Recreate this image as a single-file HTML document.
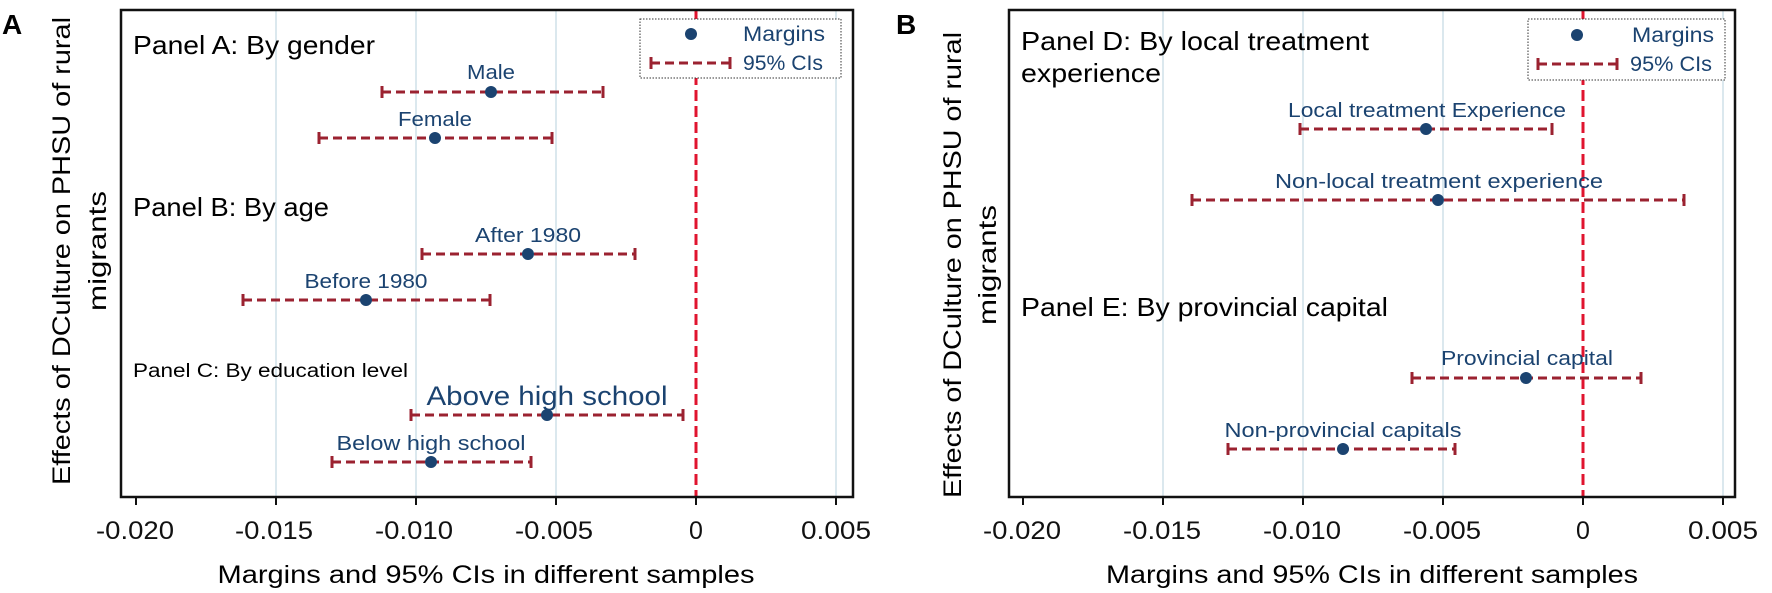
<!DOCTYPE html>
<html><head><meta charset="utf-8"><style>html,body{margin:0;padding:0;background:#fff}svg{display:block}</style></head><body>
<svg width="1772" height="593" viewBox="0 0 1772 593" xmlns="http://www.w3.org/2000/svg" font-family="Liberation Sans, sans-serif">
<defs>
<style>
.grid{stroke:#dbe8ee;stroke-width:2}
.ci{stroke:#9b2230;stroke-width:3;stroke-dasharray:9,5;fill:none}
.cap{stroke:#9b2230;stroke-width:3}
.zero{stroke:#e0142f;stroke-width:3;stroke-dasharray:11,5}
.dot{fill:#1b4370}
.lbl{fill:#1b4370}
.tk{font-size:25px;fill:#111}
.tick{stroke:#111;stroke-width:2}
</style>
</defs>
<!-- PANEL A -->
<text x="2" y="34" font-size="28" font-weight="bold">A</text>
<g class="grid"><line x1="276" y1="10" x2="276" y2="497"/><line x1="416" y1="10" x2="416" y2="497"/><line x1="556" y1="10" x2="556" y2="497"/><line x1="836" y1="10" x2="836" y2="497"/></g>
<line class="zero" x1="696" y1="10" x2="696" y2="497"/>
<rect x="121" y="10" width="732" height="487" fill="none" stroke="#111" stroke-width="2.5"/>
<g class="tick"><line x1="136" y1="497" x2="136" y2="505"/><line x1="276" y1="497" x2="276" y2="505"/><line x1="416" y1="497" x2="416" y2="505"/><line x1="556" y1="497" x2="556" y2="505"/><line x1="696" y1="497" x2="696" y2="505"/><line x1="836" y1="497" x2="836" y2="505"/></g>
<g class="tk" text-anchor="middle">
<text x="135" y="539" textLength="78" lengthAdjust="spacingAndGlyphs">-0.020</text>
<text x="274" y="539" textLength="78" lengthAdjust="spacingAndGlyphs">-0.015</text>
<text x="414" y="539" textLength="78" lengthAdjust="spacingAndGlyphs">-0.010</text>
<text x="554" y="539" textLength="78" lengthAdjust="spacingAndGlyphs">-0.005</text>
<text x="696" y="539">0</text>
<text x="836" y="539" textLength="70" lengthAdjust="spacingAndGlyphs">0.005</text>
</g>
<text x="486" y="583" font-size="25" text-anchor="middle" textLength="537" lengthAdjust="spacingAndGlyphs">Margins and 95% CIs in different samples</text>
<text transform="translate(70,251) rotate(-90)" font-size="25" text-anchor="middle" textLength="468" lengthAdjust="spacingAndGlyphs">Effects of DCulture on PHSU of rural</text>
<text transform="translate(106,251) rotate(-90)" font-size="25" text-anchor="middle" textLength="120" lengthAdjust="spacingAndGlyphs">migrants</text>
<!-- legend A -->
<rect x="640" y="19" width="201" height="59" fill="#fff" stroke="#333" stroke-width="1" stroke-dasharray="1.5,1.5"/>
<circle class="dot" cx="691" cy="34" r="6"/>
<text class="lbl" x="743" y="41" font-size="21" textLength="82" lengthAdjust="spacingAndGlyphs">Margins</text>
<line class="ci" x1="651" y1="63" x2="730" y2="63" stroke-dasharray="5,3"/>
<line class="cap" x1="651" y1="57" x2="651" y2="69"/><line class="cap" x1="730" y1="57" x2="730" y2="69"/>
<text class="lbl" x="743" y="70" font-size="21" textLength="80" lengthAdjust="spacingAndGlyphs">95% CIs</text>
<!-- panel texts A -->
<text x="133" y="54" font-size="26" textLength="242" lengthAdjust="spacingAndGlyphs">Panel A: By gender</text>
<text x="133" y="216" font-size="26" textLength="196" lengthAdjust="spacingAndGlyphs">Panel B: By age</text>
<text x="133" y="377" font-size="19" textLength="275" lengthAdjust="spacingAndGlyphs">Panel C: By education level</text>
<g class="lbl" text-anchor="middle">
<text x="491" y="79" font-size="20" textLength="48" lengthAdjust="spacingAndGlyphs">Male</text>
<text x="435" y="126" font-size="20" textLength="74" lengthAdjust="spacingAndGlyphs">Female</text>
<text x="528" y="242" font-size="20" textLength="106" lengthAdjust="spacingAndGlyphs">After 1980</text>
<text x="366" y="288" font-size="20" textLength="123" lengthAdjust="spacingAndGlyphs">Before 1980</text>
<text x="547" y="405" font-size="27" textLength="241" lengthAdjust="spacingAndGlyphs">Above high school</text>
<text x="431" y="450" font-size="20" textLength="189" lengthAdjust="spacingAndGlyphs">Below high school</text>
</g>
<!-- bars A -->
<g>
<line class="ci" x1="382" y1="92" x2="603" y2="92"/><line class="cap" x1="382" y1="86" x2="382" y2="98"/><line class="cap" x1="603" y1="86" x2="603" y2="98"/><circle class="dot" cx="491" cy="92" r="6"/>
<line class="ci" x1="319" y1="138" x2="552" y2="138"/><line class="cap" x1="319" y1="132" x2="319" y2="144"/><line class="cap" x1="552" y1="132" x2="552" y2="144"/><circle class="dot" cx="435" cy="138" r="6"/>
<line class="ci" x1="422" y1="254" x2="635" y2="254"/><line class="cap" x1="422" y1="248" x2="422" y2="260"/><line class="cap" x1="635" y1="248" x2="635" y2="260"/><circle class="dot" cx="528" cy="254" r="6"/>
<line class="ci" x1="243" y1="300" x2="490" y2="300"/><line class="cap" x1="243" y1="294" x2="243" y2="306"/><line class="cap" x1="490" y1="294" x2="490" y2="306"/><circle class="dot" cx="366" cy="300" r="6"/>
<line class="ci" x1="411" y1="415" x2="683" y2="415"/><line class="cap" x1="411" y1="409" x2="411" y2="421"/><line class="cap" x1="683" y1="409" x2="683" y2="421"/><circle class="dot" cx="547" cy="415" r="6"/>
<line class="ci" x1="332" y1="462" x2="531" y2="462"/><line class="cap" x1="332" y1="456" x2="332" y2="468"/><line class="cap" x1="531" y1="456" x2="531" y2="468"/><circle class="dot" cx="431" cy="462" r="6"/>
</g>

<!-- PANEL B -->
<text x="896" y="34" font-size="28" font-weight="bold">B</text>
<g class="grid"><line x1="1163" y1="10" x2="1163" y2="497"/><line x1="1303" y1="10" x2="1303" y2="497"/><line x1="1443" y1="10" x2="1443" y2="497"/><line x1="1723" y1="10" x2="1723" y2="497"/></g>
<line class="zero" x1="1583" y1="10" x2="1583" y2="497"/>
<rect x="1009" y="10" width="726" height="487" fill="none" stroke="#111" stroke-width="2.5"/>
<g class="tick"><line x1="1023" y1="497" x2="1023" y2="505"/><line x1="1163" y1="497" x2="1163" y2="505"/><line x1="1303" y1="497" x2="1303" y2="505"/><line x1="1443" y1="497" x2="1443" y2="505"/><line x1="1583" y1="497" x2="1583" y2="505"/><line x1="1723" y1="497" x2="1723" y2="505"/></g>
<g class="tk" text-anchor="middle">
<text x="1022" y="539" textLength="78" lengthAdjust="spacingAndGlyphs">-0.020</text>
<text x="1162" y="539" textLength="78" lengthAdjust="spacingAndGlyphs">-0.015</text>
<text x="1302" y="539" textLength="78" lengthAdjust="spacingAndGlyphs">-0.010</text>
<text x="1442" y="539" textLength="78" lengthAdjust="spacingAndGlyphs">-0.005</text>
<text x="1583" y="539">0</text>
<text x="1723" y="539" textLength="70" lengthAdjust="spacingAndGlyphs">0.005</text>
</g>
<text x="1372" y="583" font-size="25" text-anchor="middle" textLength="532" lengthAdjust="spacingAndGlyphs">Margins and 95% CIs in different samples</text>
<text transform="translate(961,265) rotate(-90)" font-size="25" text-anchor="middle" textLength="466" lengthAdjust="spacingAndGlyphs">Effects of DCulture on PHSU of rural</text>
<text transform="translate(996,265) rotate(-90)" font-size="25" text-anchor="middle" textLength="120" lengthAdjust="spacingAndGlyphs">migrants</text>
<!-- legend B -->
<rect x="1528" y="19" width="197" height="61" fill="#fff" stroke="#333" stroke-width="1" stroke-dasharray="1.5,1.5"/>
<circle class="dot" cx="1577" cy="35" r="6"/>
<text class="lbl" x="1632" y="42" font-size="21" textLength="82" lengthAdjust="spacingAndGlyphs">Margins</text>
<line class="ci" x1="1538" y1="64" x2="1617" y2="64" stroke-dasharray="5,3"/>
<line class="cap" x1="1538" y1="58" x2="1538" y2="70"/><line class="cap" x1="1617" y1="58" x2="1617" y2="70"/>
<text class="lbl" x="1630" y="71" font-size="21" textLength="82" lengthAdjust="spacingAndGlyphs">95% CIs</text>
<text x="1021" y="50" font-size="26" textLength="348" lengthAdjust="spacingAndGlyphs">Panel D: By local treatment</text>
<text x="1021" y="82" font-size="26" textLength="140" lengthAdjust="spacingAndGlyphs">experience</text>
<text x="1021" y="316" font-size="26" textLength="367" lengthAdjust="spacingAndGlyphs">Panel E: By provincial capital</text>
<g class="lbl" text-anchor="middle">
<text x="1427" y="117" font-size="20" textLength="278" lengthAdjust="spacingAndGlyphs">Local treatment Experience</text>
<text x="1439" y="188" font-size="20" textLength="328" lengthAdjust="spacingAndGlyphs">Non-local treatment experience</text>
<text x="1527" y="365" font-size="20" textLength="172" lengthAdjust="spacingAndGlyphs">Provincial capital</text>
<text x="1343" y="437" font-size="20" textLength="237" lengthAdjust="spacingAndGlyphs">Non-provincial capitals</text>
</g>
<g>
<line class="ci" x1="1300" y1="129" x2="1552" y2="129"/><line class="cap" x1="1300" y1="123" x2="1300" y2="135"/><line class="cap" x1="1552" y1="123" x2="1552" y2="135"/><circle class="dot" cx="1426" cy="129" r="6"/>
<line class="ci" x1="1192" y1="200" x2="1684" y2="200"/><line class="cap" x1="1192" y1="194" x2="1192" y2="206"/><line class="cap" x1="1684" y1="194" x2="1684" y2="206"/><circle class="dot" cx="1438" cy="200" r="6"/>
<line class="ci" x1="1412" y1="378" x2="1641" y2="378"/><line class="cap" x1="1412" y1="372" x2="1412" y2="384"/><line class="cap" x1="1641" y1="372" x2="1641" y2="384"/><circle class="dot" cx="1526" cy="378" r="6"/>
<line class="ci" x1="1228" y1="449" x2="1455" y2="449"/><line class="cap" x1="1228" y1="443" x2="1228" y2="455"/><line class="cap" x1="1455" y1="443" x2="1455" y2="455"/><circle class="dot" cx="1343" cy="449" r="6"/>
</g>
</svg>
</body></html>
